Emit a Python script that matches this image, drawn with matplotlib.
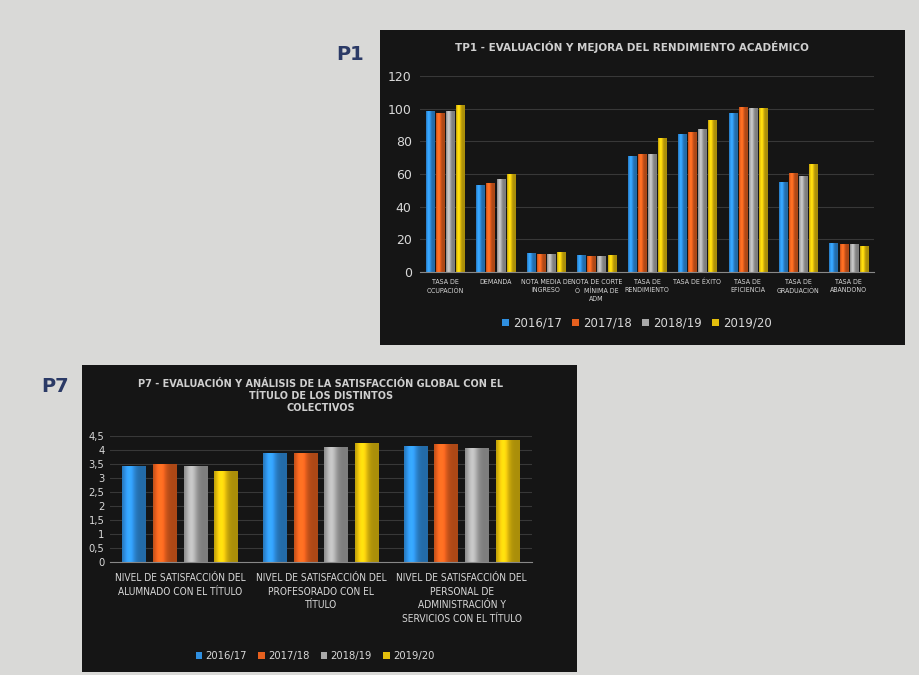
import matplotlib.pyplot as plt
import numpy as np
from matplotlib.colors import to_rgb

# --- data: TP1 ---
tp1_cats = ["TASA DE\nOCUPACIÓN", "DEMANDA", "NOTA MEDIA DE\nINGRESO",
            "NOTA DE CORTE\nÓ  MÍNIMA DE\nADM", "TASA DE\nRENDIMIENTO", "TASA DE ÉXITO",
            "TASA DE\nEFICIENCIA", "TASA DE\nGRADUACIÓN", "TASA DE\nABANDONO"]
tp1_1617 = [98.5, 53.5, 11.8, 10.2, 71, 84.5, 97.5, 55, 18]
tp1_1718 = [97.5, 54.5, 11.2, 9.7, 72, 85.5, 101, 60.5, 17]
tp1_1819 = [98.5, 57, 11.2, 10.0, 72, 87.5, 100.5, 58.5, 17]
tp1_1920 = [102, 60, 12.0, 10.5, 82, 93, 100.5, 66, 16]

# --- data: P7 ---
p7_cats = ["NIVEL DE SATISFACCIÓN DEL\nALUMNADO CON EL TÍTULO",
           "NIVEL DE SATISFACCIÓN DEL\nPROFESORADO CON EL\nTÍTULO",
           "NIVEL DE SATISFACCIÓN DEL\nPERSONAL DE\nADMINISTRACIÓN Y\nSERVICIOS CON EL TÍTULO"]
p7_1617 = [3.44, 3.88, 4.15]
p7_1718 = [3.50, 3.90, 4.21]
p7_1819 = [3.43, 4.09, 4.07]
p7_1920 = [3.26, 4.26, 4.34]
p7_ticks = ["0", "0,5", "1", "1,5", "2", "2,5", "3", "3,5", "4", "4,5"]

years = ["2016/17", "2017/18", "2018/19", "2019/20"]
colors = ["#2f8fe0", "#e6601e", "#a8a8a8", "#e3be0c"]
txt = "#d8d8d8"
grid = "#383838"

fig = plt.figure(figsize=(9.19, 6.75), dpi=100, facecolor="#d9d9d7")

# black panels
for rect in ([380/919, 1-345/675, 525/919, 315/675], [82/919, 1-672/675, 495/919, 307/675]):
    p = fig.add_axes(rect)
    p.set_facecolor("#151515")
    p.set_xticks([]); p.set_yticks([])
    for s in p.spines.values():
        s.set_visible(False)

fig.text(350/919, 1-55/675, "P1", fontsize=14, fontweight="bold", color="#2b3a66",
         ha="center", va="center")
fig.text(55/919, 1-387/675, "P7", fontsize=14, fontweight="bold", color="#2b3a66",
         ha="center", va="center")


def style(ax):
    ax.set_facecolor("none")
    for s in ["top", "right", "left"]:
        ax.spines[s].set_visible(False)
    ax.spines["bottom"].set_color("#888888")
    ax.tick_params(length=0, colors=txt)
    ax.yaxis.grid(True, color=grid, lw=0.8)
    ax.set_axisbelow(True)


def shade(ax, bars, color):
    # soft cylinder-like shading, like the 3D bars of the original
    base = np.array(to_rgb(color))
    t = np.linspace(0, 1, 32)
    f = 0.75 + 0.45 * np.exp(-((t - 0.3) / 0.25) ** 2)
    img = np.clip(base[None, :] * f[:, None], 0, 1)[None, :, :]
    for b in bars:
        x0, y0 = b.get_x(), b.get_y()
        im = ax.imshow(img, extent=[x0, x0 + b.get_width(), y0, y0 + b.get_height()],
                       aspect="auto", zorder=b.get_zorder(), interpolation="bilinear")
        im.set_clip_path(b)


# --- TP1 chart ---
ax1 = fig.add_axes([420/919, 1-272/675, 454/919, 196/675])
style(ax1)
x1 = np.arange(len(tp1_cats))
for i, vals in enumerate([tp1_1617, tp1_1718, tp1_1819, tp1_1920]):
    bars = ax1.bar(x1 + (i - 1.5) * 0.2, vals, width=0.165, color=colors[i], label=years[i])
    shade(ax1, bars, colors[i])
ax1.set_xlim(-0.5, len(tp1_cats) - 0.5)
ax1.set_ylim(0, 120)
ax1.set_yticks(range(0, 121, 20))
ax1.tick_params(axis="y", labelsize=9, pad=6)
ax1.set_xticks(x1)
ax1.set_xticklabels(tp1_cats, fontsize=5, color=txt, fontstretch="condensed",
                    va="top", linespacing=1.4)
ax1.tick_params(axis="x", pad=5)
fig.text(632/919, 1-47/675, "TP1 - EVALUACIÓN Y MEJORA DEL RENDIMIENTO ACADÉMICO",
         fontsize=7.5, fontweight="bold", color="#cfcfcf", ha="center", va="center")
ax1.legend(loc="center", bbox_to_anchor=(637/919, 1-323/675), bbox_transform=fig.transFigure,
           ncol=4, frameon=False, fontsize=8.5, labelcolor=txt, handlelength=0.6, handleheight=0.6,
           handletextpad=0.3, columnspacing=0.9)

# --- P7 chart ---
ax2 = fig.add_axes([110/919, 1-562/675, 422/919, 126/675])
style(ax2)
x2 = np.arange(len(p7_cats))
for i, vals in enumerate([p7_1617, p7_1718, p7_1819, p7_1920]):
    bars = ax2.bar(x2 + (i - 1.5) * 0.218, vals, width=0.17, color=colors[i], label=years[i])
    shade(ax2, bars, colors[i])
ax2.set_xlim(-0.5, len(p7_cats) - 0.5)
ax2.set_ylim(0, 4.5)
ax2.set_yticks(np.arange(0, 4.51, 0.5))
ax2.set_yticklabels(p7_ticks, fontsize=8, fontstretch="condensed")
ax2.tick_params(axis="y", pad=4)
ax2.set_xticks(x2)
ax2.set_xticklabels(p7_cats, fontsize=7.3, color=txt, fontstretch="condensed",
                    va="top", linespacing=1.45)
ax2.tick_params(axis="x", pad=8)
fig.text(321/919, 1-396/675,
         "P7 - EVALUACIÓN Y ANÁLISIS DE LA SATISFACCIÓN GLOBAL CON EL\nTÍTULO DE LOS DISTINTOS\nCOLECTIVOS",
         fontsize=7, fontweight="bold", color="#cfcfcf", ha="center", va="center", linespacing=1.3)
ax2.legend(loc="center", bbox_to_anchor=(315/919, 1-656/675), bbox_transform=fig.transFigure,
           ncol=4, frameon=False, labelcolor=txt, handlelength=0.6, handleheight=0.6,
           handletextpad=0.3, columnspacing=1.0, prop={"stretch": "condensed", "size": 8})

fig.savefig("out.png", dpi=100, facecolor=fig.get_facecolor())
